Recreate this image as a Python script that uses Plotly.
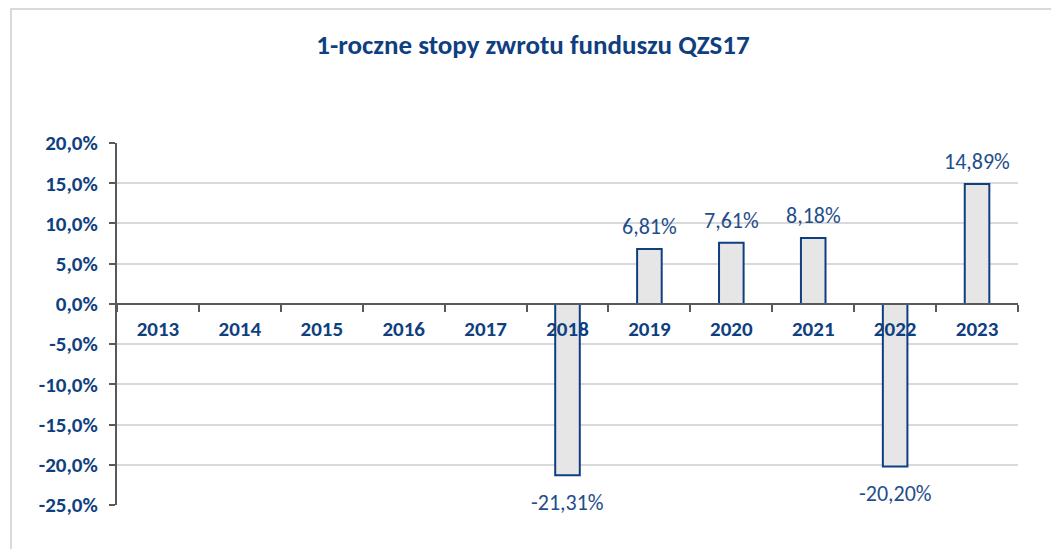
import plotly.graph_objects as go

years = ["2013", "2014", "2015", "2016", "2017", "2018", "2019", "2020", "2021", "2022", "2023"]
returns = [None, None, None, None, None, -21.31, 6.81, 7.61, 8.18, -20.20, 14.89]
y_ticks = [20, 15, 10, 5, 0, -5, -10, -15, -20, -25]
title_text = "1-roczne stopy zwrotu funduszu QZS17"

NAVY = "#0F3F7F"
LABEL = "#1F4E8C"
FONT = "Carlito, 'Liberation Sans Narrow', 'Open Sans', sans-serif"

W, H = 1051, 549
L, R, T, B = 117, 33, 143, 44
ymin, ymax = -25, 20
zero_pos = (0 - ymin) / (ymax - ymin)

fig = go.Figure()
fig.add_trace(go.Bar(
    x=years, y=returns, width=0.30,
    marker=dict(color="#E6E6E6", line=dict(color="#0E3F80", width=2)),
    hoverinfo="skip", showlegend=False,
))

for i, v in enumerate(returns):
    if v is None:
        continue
    txt = f"{v:.2f}%".replace(".", ",")
    fig.add_annotation(
        x=i, y=v, text=txt, showarrow=False,
        yanchor="bottom" if v >= 0 else "top",
        yshift=7 if v >= 0 else -12,
        font=dict(family=FONT, size=22, color=LABEL),
    )

# frame border
pw, ph = W - L - R, H - T - B
def fx(px):
    return (px - L) / pw
def fy(py):
    return (H - B - py) / ph
fig.add_shape(type="rect", xref="paper", yref="paper",
              x0=fx(11), x1=fx(1060), y0=fy(9), y1=fy(560),
              line=dict(color="#D9D9D9", width=2), fillcolor="rgba(0,0,0,0)", layer="below")

fig.update_layout(
    width=W, height=H,
    margin=dict(l=L, r=R, t=T, b=B),
    paper_bgcolor="white", plot_bgcolor="white",
    title=dict(text=f"<b>{title_text}</b>", x=fx(533), xref="paper", xanchor="center",
               y=1 - 45 / H, yanchor="middle",
               font=dict(family=FONT, size=27, color=NAVY)),
    separators=",.",
    font=dict(family=FONT),
    bargap=0.7,
)

fig.update_yaxes(
    range=[ymin, ymax], tickvals=y_ticks,
    ticktext=["<b>" + f"{t:.1f}%".replace(".", ",") + "</b>" for t in y_ticks],
    showgrid=True, gridcolor="#D9D9D9", gridwidth=2,
    zeroline=False,
    showline=True, linecolor="#595959", linewidth=2,
    ticks="outside", ticklen=6, tickcolor="#595959", tickwidth=2,
    tickfont=dict(family=FONT, size=21, color=NAVY),
    ticklabelstandoff=7,
    domain=[0, 1],
)

fig.update_xaxes(
    type="category", categoryorder="array", categoryarray=years,
    range=[-0.5, len(years) - 0.5],
    anchor="free", position=zero_pos,
    showline=True, linecolor="#595959", linewidth=2,
    ticks="outside", tickson="boundaries", ticklen=7, tickcolor="#595959", tickwidth=2,
    showgrid=False,
    tickfont=dict(family=FONT, size=21, color=NAVY),
    tickprefix="<b>", ticksuffix="</b>",
    ticklabelstandoff=6,
)

fig.write_html("out.html", config={"displayModeBar": False},
               post_script="document.body.style.margin='0';document.body.style.overflow='hidden';")
